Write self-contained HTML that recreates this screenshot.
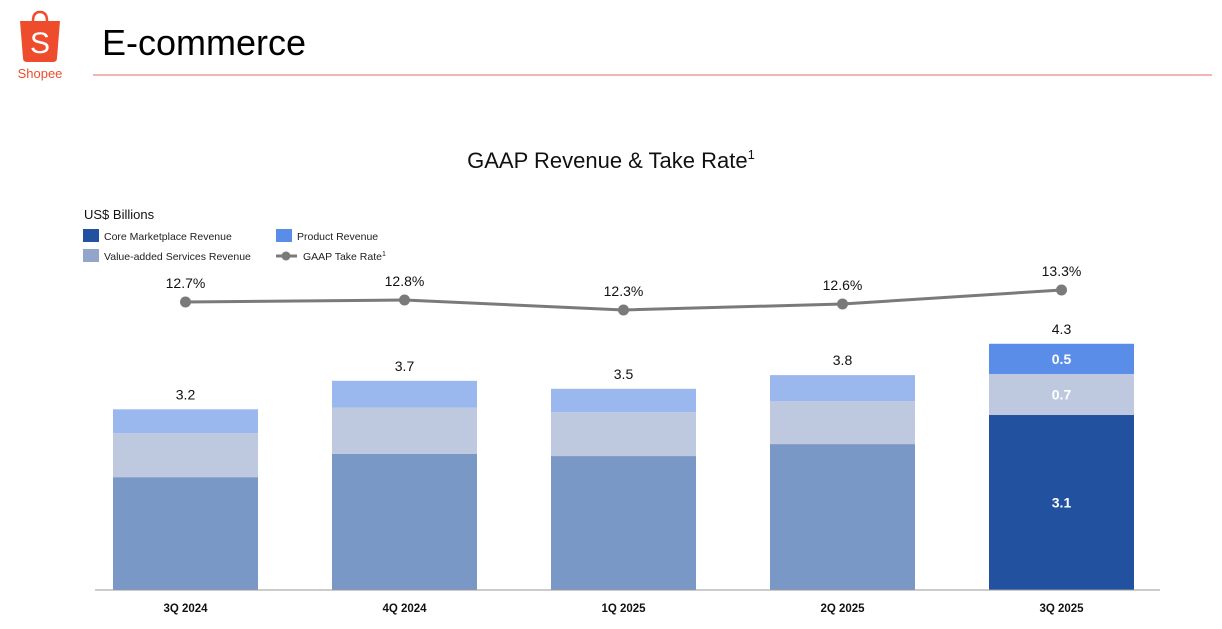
<!DOCTYPE html>
<html><head><meta charset="utf-8"><style>
body{margin:0;background:#fff;font-family:"Liberation Sans",sans-serif;}
</style></head><body>
<svg width="1222" height="624" viewBox="0 0 1222 624" xmlns="http://www.w3.org/2000/svg" font-family="Liberation Sans, sans-serif">
<g>
 <path d="M33 21 Q33 12 40 12 Q47 12 47 21" fill="none" stroke="#ee4d2d" stroke-width="2.5"/>
 <path d="M20 21 L60 21 L57 58 Q57 62 53 62 L27 62 Q23 62 23 58 Z" fill="#ee4d2d"/>
 <text x="40" y="53" font-size="30" fill="#fff" text-anchor="middle">S</text>
 <text x="40" y="78" font-size="13" fill="#ee4d2d" text-anchor="middle">Shopee</text>
</g>
<text x="102" y="55" font-size="36" fill="#000">E-commerce</text>
<line x1="93" y1="75" x2="1212" y2="75" stroke="#e88a8a" stroke-width="1.2"/>
<text x="611" y="168" font-size="22" text-anchor="middle" fill="#111">GAAP Revenue &amp; Take Rate<tspan font-size="13" dy="-9">1</tspan></text>
<text x="84" y="219" font-size="13" fill="#111">US$ Billions</text>
<g font-size="10.5" fill="#222">
 <rect x="83" y="229" width="16" height="13" fill="#2251a0"/><text x="104" y="240">Core Marketplace Revenue</text>
 <rect x="276" y="229" width="16" height="13" fill="#5a8de8"/><text x="297" y="240">Product Revenue</text>
 <rect x="83" y="249" width="16" height="13" fill="#92a6cc"/><text x="104" y="260">Value-added Services Revenue</text>
 <line x1="276" y1="256" x2="297" y2="256" stroke="#7a7a7a" stroke-width="3"/><circle cx="286" cy="256" r="4.5" fill="#7a7a7a"/>
 <text x="303" y="260">GAAP Take Rate<tspan font-size="7" dy="-4">1</tspan></text>
</g>
<g id="chart"></g>
</svg>
<script>
const categories=["3Q 2024","4Q 2024","1Q 2025","2Q 2025","3Q 2025"];
const coreRev=[1.98,2.39,2.35,2.56,3.07];
const vasRev=[0.77,0.81,0.77,0.75,0.72];
const productRev=[0.42,0.47,0.41,0.46,0.53];
const totalLabels=["3.2","3.7","3.5","3.8","4.3"];
const takeRate=[12.7,12.8,12.3,12.6,13.3];
const takeRateLabels=["12.7%","12.8%","12.3%","12.6%","13.3%"];
const segLabels3Q25=["3.1","0.7","0.5"];
const NS="http://www.w3.org/2000/svg";
const g=document.getElementById("chart");
const base=590, pxPer=57, bw=145;
const xC=i=>185.5+i*219;
const yV=v=>base-v*pxPer;
const yR=r=>310-(r-12.3)*20;
function mk(t,a){const e=document.createElementNS(NS,t);for(const k in a)e.setAttribute(k,a[k]);g.appendChild(e);return e;}
categories.forEach((c,i)=>{
 const last=i===categories.length-1;
 const cols=last?["#2251a0","#bec9e0","#5a8de8"]:["#7a98c6","#bec9e0","#9ab8ee"];
 const vals=[coreRev[i],vasRev[i],productRev[i]];
 const names=["bar-core-","bar-vas-","bar-product-"];
 let acc=0;
 vals.forEach((v,j)=>{
  const r=mk("rect",{x:xC(i)-bw/2,y:yV(acc+v),width:bw,height:v*pxPer,fill:cols[j]});
  
  
  if(last){const t=mk("text",{x:xC(i),y:yV(acc+v/2)+5,"font-size":14,"font-weight":"bold",fill:"#fff","text-anchor":"middle"});t.textContent=segLabels3Q25[j];
   
   }
  acc+=v;
 });
 const tl=mk("text",{x:xC(i),y:yV(acc)-10,"font-size":14,fill:"#111","text-anchor":"middle"});tl.textContent=totalLabels[i];
 
 
 const xl=mk("text",{x:xC(i),y:612,"font-size":11.5,"font-weight":"bold",fill:"#111","text-anchor":"middle"});xl.textContent=c;
 
 
});
const ax=mk("line",{x1:95,y1:base,x2:1160,y2:base,stroke:"#999","stroke-width":1});


const pl=mk("polyline",{points:takeRate.map((r,i)=>xC(i)+","+yR(r)).join(" "),fill:"none",stroke:"#7a7a7a","stroke-width":3});


takeRate.forEach((r,i)=>{
 const c=mk("circle",{cx:xC(i),cy:yR(r),r:5.5,fill:"#7a7a7a"});
 
 
 const t=mk("text",{x:xC(i),y:yR(r)-14,"font-size":14,fill:"#111","text-anchor":"middle"});t.textContent=takeRateLabels[i];
 
 
});
</script>
</body></html>
